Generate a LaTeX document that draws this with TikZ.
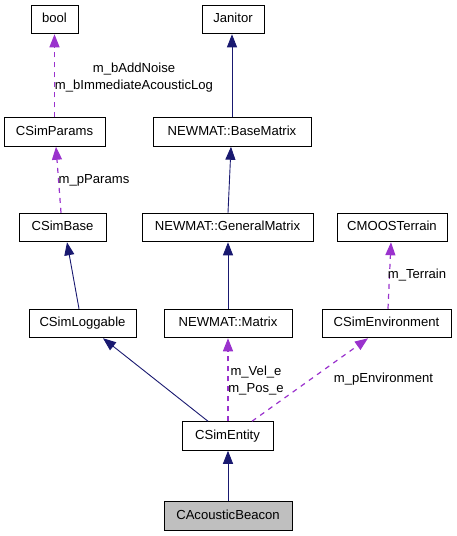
\documentclass[tikz,border=0pt]{standalone}
\usepackage{fontspec}
\setmainfont{Liberation Sans}
\usetikzlibrary{arrows.meta}
\definecolor{navyedge}{RGB}{25,25,112}
\definecolor{purpedge}{RGB}{154,50,205}
\definecolor{grayfill}{RGB}{191,191,191}
\begin{document}
\begin{tikzpicture}[x=1pt,y=-1pt,
  font=\fontsize{13.1}{17}\selectfont,
  cls/.style={draw=black,line width=1pt,fill=white,inner sep=0pt,minimum height=28.5pt,text height=9.5pt,text depth=2.6pt,anchor=center},
  inh/.style={draw=navyedge,line width=0.9pt,-{Triangle[length=13pt,width=10pt]}},
  use/.style={draw=purpedge,line width=1.2pt,dash pattern=on 5pt off 5pt,-{Triangle[length=13pt,width=10pt]}},
  lbl/.style={inner sep=0pt,align=center,text height=9.5pt,text depth=2.6pt}]
\useasboundingbox (0,0) rectangle (456,536);
% nodes
\node[cls,minimum width=47pt] (bool) at (54.5,19.5) {bool};
\node[cls,minimum width=62pt] (janitor) at (233,19.5) {Janitor};
\node[cls,minimum width=101pt] (cparams) at (54.5,132) {CSimParams};
\node[cls,minimum width=158pt] (basem) at (232,132) {NEWMAT::BaseMatrix};
\node[cls,minimum width=87pt] (csimbase) at (62.5,227.5) {CSimBase};
\node[cls,minimum width=171pt] (genm) at (227.5,227.5) {NEWMAT::GeneralMatrix};
\node[cls,minimum width=110pt] (cmoos) at (392,227.5) {CMOOSTerrain};
\node[cls,minimum width=107pt] (clog) at (82.5,323.5) {CSimLoggable};
\node[cls,minimum width=128pt] (matrix) at (228,323.5) {NEWMAT::Matrix};
\node[cls,minimum width=129pt] (cenv) at (386.5,323.5) {CSimEnvironment};
\node[cls,minimum width=91pt] (centity) at (227.5,436) {CSimEntity};
\node[cls,minimum width=128pt,fill=grayfill] (cbeacon) at (228,516) {CAcousticBeacon};
% edges
\draw[use] (cparams.north) -- (bool.south);
\draw[use] ([xshift=-1.5pt]csimbase.north) -- ([xshift=1.5pt]cparams.south);
\draw[inh] (basem.north) -- ([xshift=-1pt]janitor.south);
\draw[inh] ([xshift=0.5pt]genm.north) -- ([xshift=-1pt]basem.south);
\draw[inh] ([xshift=-3.5pt]clog.north) -- ([xshift=4.5pt]csimbase.south);
\draw[inh] (matrix.north) -- ([xshift=0.5pt]genm.south);
\draw[use] ([xshift=1.5pt]cenv.north) -- ([xshift=-1pt]cmoos.south);
\draw[inh] ([xshift=-19.5pt]centity.north) -- ([xshift=20.5pt]clog.south);
\draw[use] ([xshift=0.5pt]centity.north) -- (matrix.south);
\draw[use] ([xshift=24.5pt]centity.north) -- ([xshift=-18.5pt]cenv.south);
\draw[inh] (cbeacon.north) -- ([xshift=0.5pt]centity.south);
% labels
\node[lbl] (l1) at (134,86) {m\_bAddNoise\\m\_bImmediateAcousticLog};
\node[lbl] (l2) at (94,180.5) {m\_pParams};
\node[lbl] (l3) at (417,275.5) {m\_Terrain};
\node[lbl] (l4) at (256,389.5) {m\_Vel\_e\\m\_Pos\_e};
\node[lbl] (l5) at (383.5,379.5) {m\_pEnvironment};
\end{tikzpicture}
\end{document}
